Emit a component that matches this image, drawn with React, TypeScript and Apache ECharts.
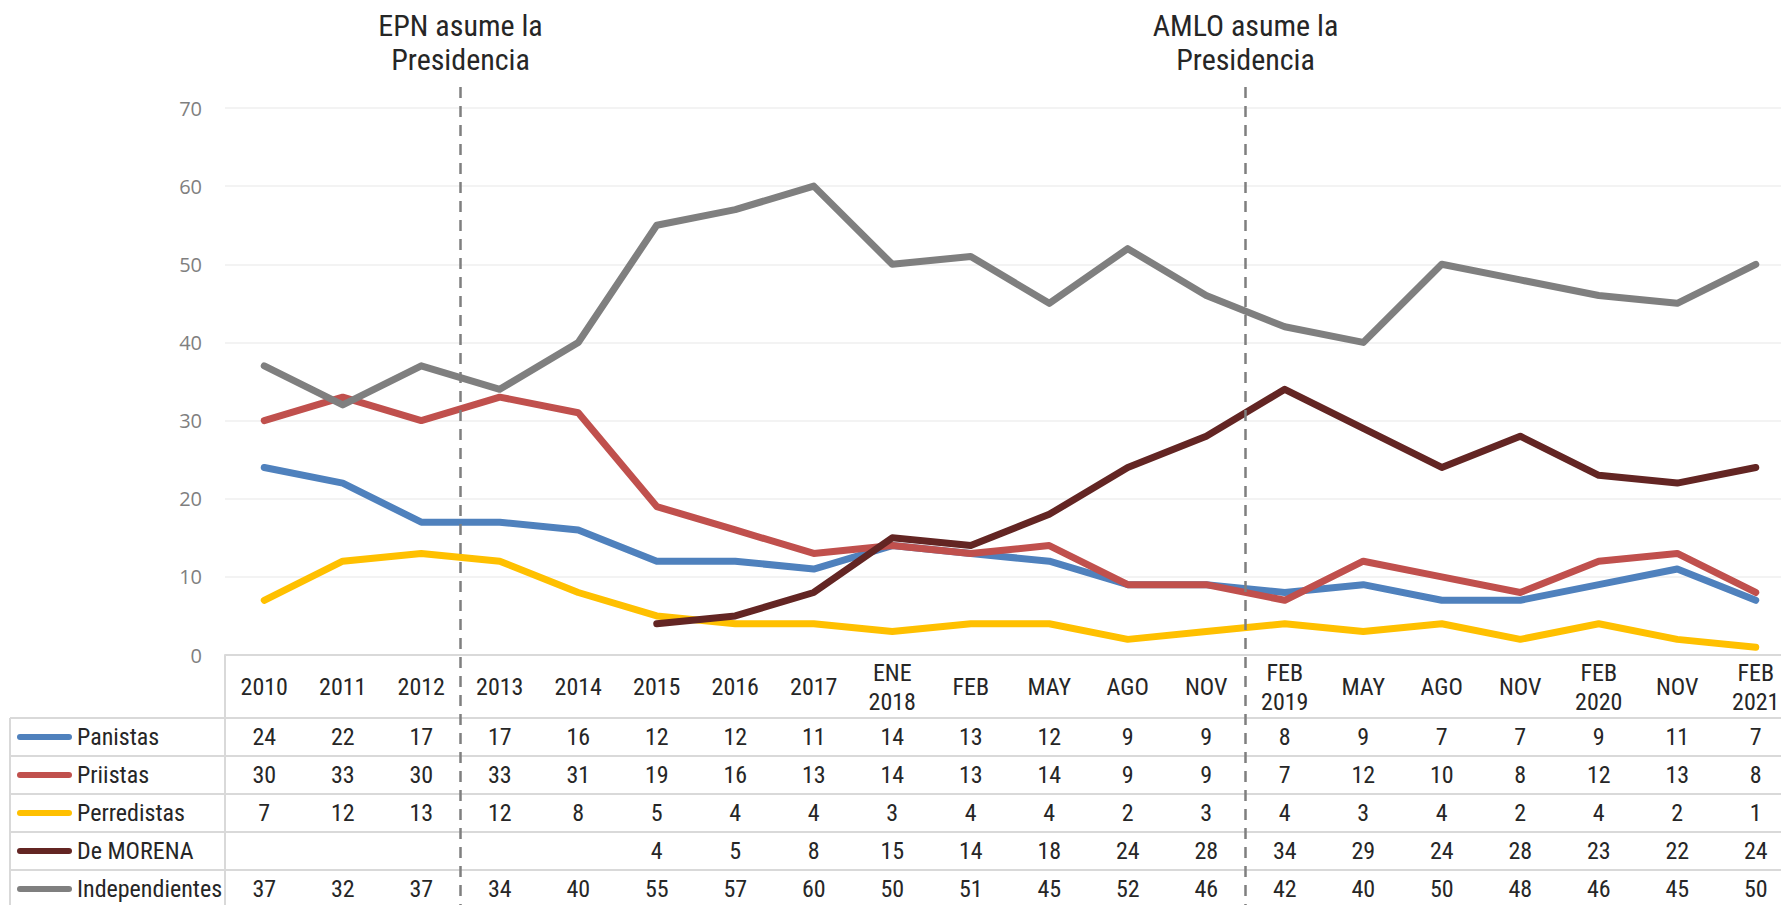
import React, { useEffect, useRef } from "react";
import * as echarts from "echarts";

const categories = ["2010", "2011", "2012", "2013", "2014", "2015", "2016", "2017", "ENE\n2018", "FEB", "MAY", "AGO", "NOV", "FEB\n2019", "MAY", "AGO", "NOV", "FEB\n2020", "NOV", "FEB\n2021"];
const panistas = [24, 22, 17, 17, 16, 12, 12, 11, 14, 13, 12, 9, 9, 8, 9, 7, 7, 9, 11, 7];
const priistas = [30, 33, 30, 33, 31, 19, 16, 13, 14, 13, 14, 9, 9, 7, 12, 10, 8, 12, 13, 8];
const perredistas = [7, 12, 13, 12, 8, 5, 4, 4, 3, 4, 4, 2, 3, 4, 3, 4, 2, 4, 2, 1];
const morena: (number | null)[] = [null, null, null, null, null, 4, 5, 8, 15, 14, 18, 24, 28, 34, 29, 24, 28, 23, 22, 24];
const independientes = [37, 32, 37, 34, 40, 55, 57, 60, 50, 51, 45, 52, 46, 42, 40, 50, 48, 46, 45, 50];
const yTicks = { min: 0, max: 70, interval: 10 };
const events = [
  { after: 2, label: "EPN asume la\nPresidencia" },
  { after: 12, label: "AMLO asume la\nPresidencia" },
];

const seriesDefs = [
  { name: "Panistas", data: panistas as (number | null)[], color: "#4f81bd" },
  { name: "Priistas", data: priistas as (number | null)[], color: "#c0504d" },
  { name: "Perredistas", data: perredistas as (number | null)[], color: "#ffc000" },
  { name: "De MORENA", data: morena, color: "#632523" },
  { name: "Independientes", data: independientes as (number | null)[], color: "#7f7f7f" },
];

const FONT = "'Liberation Sans Narrow', 'Roboto Condensed', Roboto, sans-serif";
const TEXT = "#262626";
const LINE = "#d9d9d9";

export default function App() {
  const ref = useRef<HTMLDivElement>(null);
  useEffect(() => {
    if (!ref.current) return;
    const chart = echarts.init(ref.current, undefined, { renderer: "svg" });
    const gridTop = 108;
    const gridBottomY = 655;
    const rowTop = 718;
    const rowH = 38;
    const rowOffsets = seriesDefs.map((_, i) => rowTop + rowH * i + rowH / 2 - gridBottomY);

    const rowAxes = seriesDefs.map((s, i) => ({
      type: "category",
      data: categories,
      position: "bottom",
      offset: rowOffsets[i],
      axisLine: { show: false },
      axisTick: { show: false },
      splitLine: { show: false },
      axisLabel: {
        interval: 0,
        margin: 0,
        verticalAlign: "middle",
        fontFamily: FONT,
        fontSize: 24,
        color: TEXT,
        formatter: (_v: string, idx: number) => (s.data[idx] == null ? "" : String(s.data[idx])),
      },
    }));

    chart.setOption({
      animation: false,
      grid: { left: 225, top: gridTop, width: 1570, height: gridBottomY - gridTop },
      legend: {
        data: seriesDefs.map((s) => s.name),
        orient: "vertical",
        left: 17,
        top: rowTop,
        padding: 0,
        itemGap: 0,
        itemWidth: 55,
        itemHeight: 6,
        icon: "path://M3,0 H52 A3,3 0 0 1 52,6 H3 A3,3 0 0 1 3,0 Z",
        selectedMode: false,
        textStyle: { fontFamily: FONT, fontSize: 24, color: TEXT, lineHeight: 38 },
      },
      xAxis: [
        {
          type: "category",
          data: categories,
          axisLine: { show: true, lineStyle: { color: LINE, width: 2 } },
          axisTick: { show: false },
          axisLabel: {
            interval: 0,
            margin: 32,
            verticalAlign: "middle",
            fontFamily: FONT,
            fontSize: 24,
            lineHeight: 29,
            color: TEXT,
          },
        },
        ...rowAxes,
      ],
      yAxis: {
        type: "value",
        min: yTicks.min,
        max: yTicks.max,
        interval: yTicks.interval,
        axisLine: { show: false },
        axisTick: { show: false },
        axisLabel: { margin: 23, fontFamily: "'Open Sans', sans-serif", fontSize: 20, color: "#7f7f7f" },
        splitLine: { lineStyle: { color: "#efefef", width: 1.5 } },
      },
      series: seriesDefs.map((s) => ({
        name: s.name,
        type: "line",
        data: s.data.map((v) => (v == null ? "-" : v)),
        xAxisIndex: 0,
        showSymbol: false,
        symbol: "none",
        connectNulls: false,
        color: s.color,
        lineStyle: { color: s.color, width: 7, cap: "round", join: "round" },
      })),
    });

    const graphics: any[] = [];
    const hys = [0, 1, 2, 3, 4].map((i) => rowTop + rowH * i);
    hys.forEach((y) =>
      graphics.push({ type: "line", shape: { x1: 10, y1: y, x2: 1820, y2: y }, style: { stroke: LINE, lineWidth: 2 }, z: 1 })
    );
    graphics.push({ type: "line", shape: { x1: 10, y1: rowTop, x2: 10, y2: 905 }, style: { stroke: LINE, lineWidth: 2 }, z: 1 });
    graphics.push({ type: "line", shape: { x1: 225, y1: gridBottomY, x2: 225, y2: 905 }, style: { stroke: LINE, lineWidth: 2 }, z: 1 });

    events.forEach((ev) => {
      const a = chart.convertToPixel({ xAxisIndex: 0 }, ev.after) as number;
      const b = chart.convertToPixel({ xAxisIndex: 0 }, ev.after + 1) as number;
      const x = (a + b) / 2;
      graphics.push({
        type: "line",
        shape: { x1: x, y1: 87, x2: x, y2: 905 },
        style: { stroke: "#7f7f7f", lineWidth: 2.5, lineDash: [11, 8] },
        z: 10,
      });
      graphics.push({
        type: "text",
        x,
        y: 8,
        style: {
          text: ev.label,
          align: "center",
          verticalAlign: "top",
          fontFamily: FONT,
          fontSize: 30,
          lineHeight: 34,
          fill: TEXT,
        },
        z: 10,
      });
    });
    chart.setOption({ graphic: graphics });

    return () => chart.dispose();
  }, []);
  return <div ref={ref} style={{ position: "fixed", left: 0, top: 0, width: 1820, height: 940, background: "#fff" }} />;
}
